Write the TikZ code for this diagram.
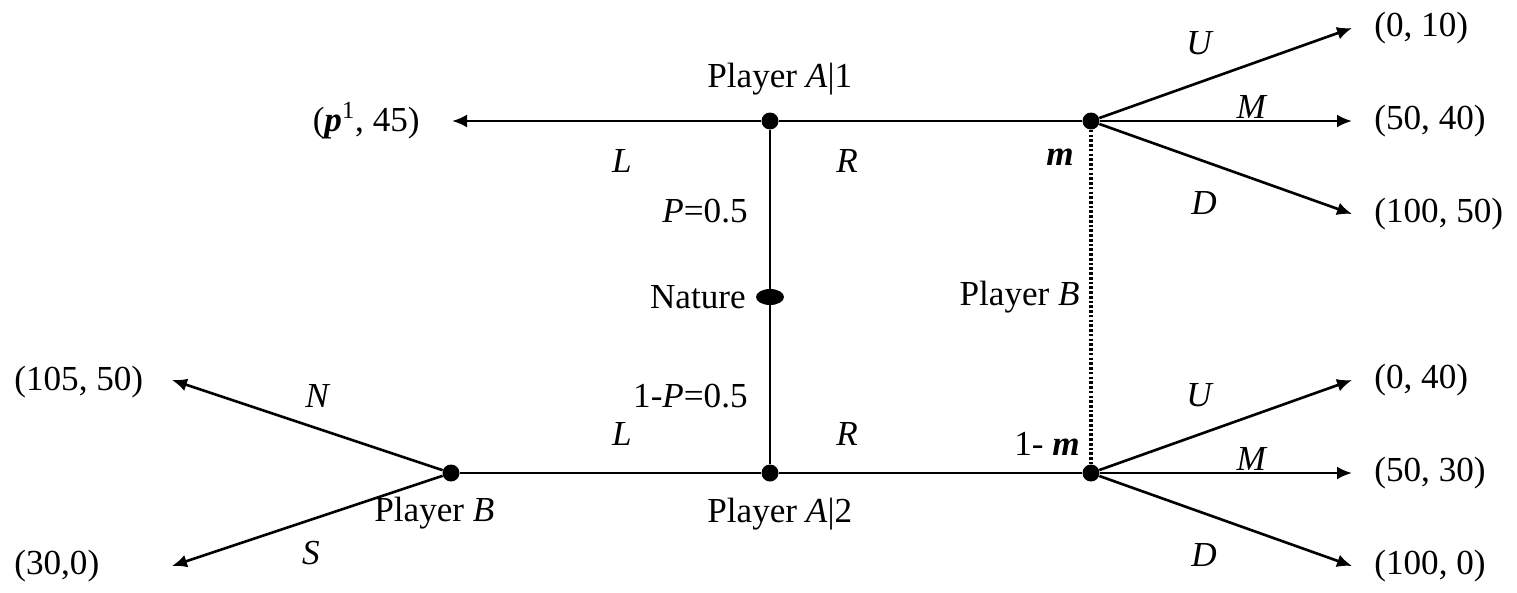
\documentclass[tikz,border=0pt]{standalone}
\usepackage{fontspec}
\setmainfont{Liberation Serif}
\usetikzlibrary{arrows.meta,positioning,shapes.geometric}

\begin{document}
\begin{tikzpicture}[x=0.02cm,y=-0.02cm,>={Latex[length=0.3cm,width=0.26cm]},
          every node/.style={font=\fontsize{20}{24}\selectfont,inner sep=0pt},
          dot/.style={circle,fill,minimum size=0.34cm},
          chance/.style={ellipse,fill,minimum width=0.56cm,minimum height=0.32cm},
          move/.style={line width=1.5pt},
          info/.style={line width=1.8pt,dash pattern=on 1.5pt off 1.2pt}]
        \useasboundingbox (0,0) rectangle (1517,592);
        % decision nodes
        \node[dot] (a1) at (770,121) {};
        \node[chance] (nat) at (770,297) {};
        \node[dot] (a2) at (770,473) {};
        \node[dot] (bt) at (1091,121) {};
        \node[dot] (bb) at (1091,473) {};
        \node[dot] (bl) at (451,473) {};
        % arrow ends
        \coordinate (tL) at (452,121);
        \coordinate (tU) at (1352,28);
        \coordinate (tM) at (1352,121);
        \coordinate (tD) at (1352,214);
        \coordinate (bU) at (1352,380);
        \coordinate (bM) at (1352,473);
        \coordinate (bD) at (1352,566);
        \coordinate (lN) at (172,380);
        \coordinate (lS) at (172,566);
        % moves
        \draw[move] (a1) -- (nat) -- (a2);
        \draw[move] (a1) -- (bt);
        \draw[move] (bl) -- (a2) -- (bb);
        \draw[info] (bt) -- (bb);
        \draw[move,->] (a1) -- (tL);
        \draw[move,->] (bt) -- (tU);
        \draw[move,->] (bt) -- (tM);
        \draw[move,->] (bt) -- (tD);
        \draw[move,->] (bb) -- (bU);
        \draw[move,->] (bb) -- (bM);
        \draw[move,->] (bb) -- (bD);
        \draw[move,->] (bl) -- (lN);
        \draw[move,->] (bl) -- (lS);
        % payoffs
        \node[anchor=east] (payL) at (420,121) {(\textbf{\textit{p}}\textsuperscript{1}, 45)};
        \node[anchor=west] (payTU) at (1374,28) {(0, 10)};
        \node[anchor=west] (payTM) at (1374,121) {(50, 40)};
        \node[anchor=west] (payTD) at (1374,214) {(100, 50)};
        \node[anchor=west] (payBU) at (1374,380) {(0, 40)};
        \node[anchor=west] (payBM) at (1374,473) {(50, 30)};
        \node[anchor=west] (payBD) at (1374,566) {(100, 0)};
        \node[anchor=west] (payN) at (14,382) {(105, 50)};
        \node[anchor=west] (payS) at (14,566) {(30,0)};
        % labels
        \node[anchor=base west] (labA1) at (707,87) {Player \textit{A}|1};
        \node[anchor=west] (labA2) at (707,514) {Player \textit{A}|2};
        \node (labTL) at (622,161) {\textit{L}};
        \node (labTR) at (847,161) {\textit{R}};
        \node (labBL) at (622,434) {\textit{L}};
        \node (labBR) at (847,434) {\textit{R}};
        \node[anchor=base] (labm) at (1060,165) {\textbf{\textit{m}}};
        \node[anchor=base east] (lab1m) at (1080,455) {1- \textbf{\textit{m}}};
        \node[anchor=base east] (labP) at (748,222) {\textit{P}=0.5};
        \node[anchor=east] (labQ) at (748,396) {1-\textit{P}=0.5};
        \node[anchor=east] (labNat) at (746,297) {Nature};
        \node[anchor=east] (labBinfo) at (1080,297) {Player \textit{B}};
        \node[anchor=west] (labBl) at (374,513) {Player \textit{B}};
        \node (labN) at (318,396) {\textit{N}};
        \node (labS) at (311,553) {\textit{S}};
        \node (labTU) at (1200,43) {\textit{U}};
        \node (labTM) at (1252,107) {\textit{M}};
        \node (labTD) at (1204,203) {\textit{D}};
        \node (labBU) at (1200,395) {\textit{U}};
        \node (labBM) at (1252,459) {\textit{M}};
        \node (labBD) at (1204,555) {\textit{D}};
      \end{tikzpicture}
\end{document}
